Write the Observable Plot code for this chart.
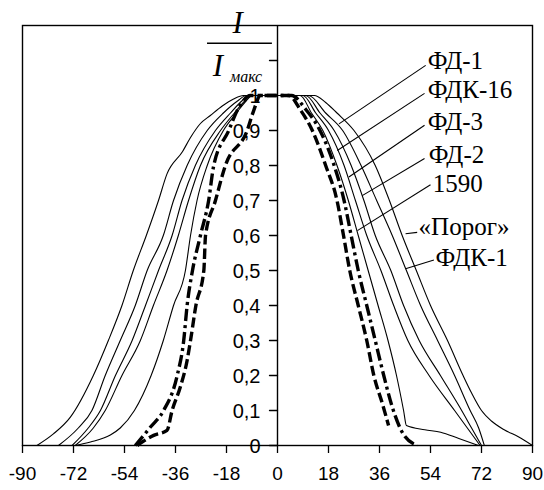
<!DOCTYPE html>
<html><head><meta charset="utf-8">
<script src="https://cdn.jsdelivr.net/npm/d3@7"></script>
<script src="https://cdn.jsdelivr.net/npm/@observablehq/plot@0.6"></script>
<style>body{margin:0;background:#fff}</style>
</head><body><div id="chart"></div>
<script>
// ---- tick values and labels ----
const xTicks = [-90, -72, -54, -36, -18, 0, 18, 36, 54, 72, 90];
const yTicks = [0, 0.1, 0.2, 0.3, 0.4, 0.5, 0.6, 0.7, 0.8, 0.9, 1, 1.1];
const yLabelValues = [0, 0.1, 0.2, 0.3, 0.4, 0.5, 0.6, 0.7, 0.8, 0.9, 1];
const yLabelTexts = ["0", "0,1", "0,2", "0,3", "0,4", "0,5", "0,6", "0,7", "0,8", "0,9", "1"];

// ---- series (angle in degrees, relative intensity I/Imax) ----
const seriesNames = ["ФД-1", "ФДК-16", "ФД-3", "ФД-2", "1590", "«Порог»", "ФДК-1"];

const angFD1 = [-49.5,-43.7,-39,-37.2,-34.3,-31.9,-30.7,-28.8,-26,-25.4,-21.9,-18.4,-10.7,-8.4,-6, 4,8,12.3,17,21,23.3,25.5,28.5,31.5,34,37,38.2,39.2];
const intFD1 = [0,0.029,0.043,0.1,0.167,0.243,0.3,0.4,0.5,0.6,0.7,0.8,0.9,0.957,1, 1,0.96,0.9,0.8,0.7,0.6,0.5,0.4,0.3,0.2,0.12,0.086,0.057];

const angFDK16 = [-50.2,-44.9,-40.2,-35.4,-33.1,-31.9,-30,-27.2,-24.3,-22.5,-17.2,-14.2,-9.5, 5,10,15,20,23.5,26,28.5,31.5,34.5,37.5,40.5,44.6,49.4];
const intFDK16 = [0,0.052,0.1,0.2,0.3,0.4,0.5,0.6,0.7,0.8,0.9,0.957,1, 1,0.96,0.9,0.8,0.7,0.6,0.5,0.4,0.3,0.2,0.11,0.03,0];

const angFD3 = [-71.4,-66,-59,-55.5,-50.5,-44.6,-40.3,-36.7,-32.5,-30.7,-28.4,-24.8,-19.1,-14.5,-11,-8.8, 8,12,16,21,25,28.5,32,35.5,39,42,44.5,45.5,52,57.6,64,71];
const intFD3 = [0,0.01,0.03,0.05,0.1,0.2,0.3,0.4,0.5,0.6,0.7,0.8,0.9,0.95,0.985,1, 1,0.95,0.9,0.8,0.7,0.6,0.5,0.4,0.3,0.2,0.1,0.057,0.045,0.038,0.02,0];

const angFD2 = [-71.4,-65,-60.8,-54.9,-48.4,-43.8,-39,-35,-31.4,-27.2,-20.1,-15.2,-11.5,-9.5, 9,13.5,18,23.5,27.5,31.5,36.5,41,46,53.5,62.5,67,71.5];
const intFD2 = [0,0.05,0.1,0.2,0.3,0.4,0.5,0.6,0.7,0.8,0.9,0.95,0.985,1, 1,0.95,0.9,0.8,0.7,0.6,0.5,0.4,0.3,0.2,0.1,0.05,0];

const ang1590 = [-72.5,-66.8,-62.5,-57.2,-51.3,-46.6,-42,-37.2,-33.7,-29,-21.9,-16.6,-12.5,-10, 10,15,20,26,30.5,34.5,40,44.5,50,57.5,65,68.5,72];
const int1590 = [0,0.05,0.1,0.2,0.3,0.4,0.5,0.6,0.7,0.8,0.9,0.95,0.985,1, 1,0.95,0.9,0.8,0.7,0.6,0.5,0.4,0.3,0.2,0.1,0.05,0];

const angPorog = [-84.9,-79.1,-73.1,-65,-59.7,-54.9,-50.9,-46.3,-42,-39,-33.5,-30.7,-27.2,-23.7,-19.5,-15.5,-12, 13,17,21,27,34.5,39.5,44,49,54,60,65.5,68.5,72,75.5,80,85,90];
const intPorog = [0,0.033,0.081,0.2,0.3,0.4,0.5,0.6,0.7,0.776,0.84,0.88,0.92,0.943,0.97,0.99,1, 1,0.98,0.95,0.9,0.8,0.7,0.6,0.5,0.4,0.3,0.2,0.15,0.1,0.07,0.045,0.025,0];

const angFDK1 = [-77.3,-70.3,-65.5,-60.8,-55.5,-50.2,-46,-40.3,-36.7,-31.9,-24.8,-19.1,-14,-11, 11,17,23,29.5,35,40.5,45.5,50.5,56.5,62.5,68,71,73];
const intFDK1 = [0,0.05,0.1,0.2,0.3,0.4,0.5,0.6,0.7,0.8,0.9,0.95,0.985,1, 1,0.95,0.9,0.8,0.7,0.6,0.5,0.4,0.3,0.2,0.1,0.05,0];

const seriesAngles = [angFD1, angFDK16, angFD3, angFD2, ang1590, angPorog, angFDK1];
const seriesValues = [intFD1, intFDK16, intFD3, intFD2, int1590, intPorog, intFDK1];

// ---- annotation layout (data coordinates) ----
const layout = {
  labelX:   [53, 53, 53, 53.4, 54.8, 49.8, 55.8],
  labelY:   [1.1, 1.017, 0.923, 0.831, 0.748, 0.623, 0.537],
  leadX1:   [52.3, 51.9, 51.9, 51.9, 54, 49.3, 55.2],
  leadY1:   [1.086, 1.006, 0.915, 0.82, 0.745, 0.609, 0.53],
  leadX2:   [21.7, 21.1, 25.2, 29.9, 28.2, 45.2, 45.2],
  leadY2:   [0.919, 0.843, 0.767, 0.714, 0.614, 0.605, 0.505],
  fracTop: {x: -14.1, y: 1.206},
  fracBar: {y: 1.149, x1: -24.7, x2: -1.8},
  fracBottom: {x: -21, y: 1.084},
  fracSub: {x: -11.1, y: 1.052}
};

const styles = {
  "ФД-1":   {strokeWidth: 3.4, strokeDasharray: "10,4", strokeLinecap: "butt"},
  "ФДК-16": {strokeWidth: 3.4, strokeDasharray: "12,4,3,4", strokeLinecap: "butt"}
};

const rows = [];
seriesNames.forEach((name, i) => {
  seriesAngles[i].forEach((a, j) => rows.push({name, angle: a, value: seriesValues[i][j]}));
});

const tickLeft = {draw(context, length) { context.moveTo(0, 0); context.lineTo(0, -length); }};

const leaders = seriesNames.map((name, i) => ({
  name, x1: layout.leadX1[i], y1: layout.leadY1[i], x2: layout.leadX2[i], y2: layout.leadY2[i],
  lx: layout.labelX[i], ly: layout.labelY[i]
}));

const lineMarks = seriesNames.map(name => {
  const st = styles[name] || {strokeWidth: 1.1};
  return Plot.line(rows.filter(d => d.name === name), {
    x: "angle", y: "value", stroke: "black", curve: "monotone-x", ...st
  });
});

const serif = "'Liberation Serif', 'Times New Roman', serif";

const chart = Plot.plot({
  width: 544, height: 490,
  marginLeft: 22, marginRight: 12, marginTop: 25, marginBottom: 45,
  style: {fontFamily: "'Liberation Sans', Arial, sans-serif", background: "white", color: "black"},
  x: {domain: [-90, 90], label: null},
  y: {domain: [0, 1.2], axis: null, label: null},
  marks: [
    Plot.frame({stroke: "black", strokeWidth: 1.4}),
    Plot.ruleX([0], {stroke: "black", strokeWidth: 1.4}),
    Plot.vector(yTicks, {x: 0, y: d => d, length: 8, rotate: -90, anchor: "start", shape: tickLeft, stroke: "black", strokeWidth: 1.3}),
    Plot.text(yLabelValues, {x: 0, y: d => d, text: (d, i) => yLabelTexts[i], textAnchor: "end", dx: -17, dy: 1, fontSize: 20}),
    Plot.axisX(xTicks, {tickSize: 8, tickPadding: 13, fontSize: 19, tickFormat: d => String(d), strokeWidth: 1.3, label: null}),
    ...lineMarks,
    Plot.link(leaders, {x1: "x1", y1: "y1", x2: "x2", y2: "y2", stroke: "black", strokeWidth: 1.1}),
    Plot.text(leaders, {x: "lx", y: "ly", text: "name", textAnchor: "start", fontFamily: serif, fontSize: 25}),
    Plot.ruleY([layout.fracBar.y], {x1: layout.fracBar.x1, x2: layout.fracBar.x2, stroke: "black", strokeWidth: 1.5}),
    Plot.text(["I"], {x: layout.fracTop.x, y: layout.fracTop.y, fontFamily: serif, fontStyle: "italic", fontSize: 31}),
    Plot.text(["I"], {x: layout.fracBottom.x, y: layout.fracBottom.y, fontFamily: serif, fontStyle: "italic", fontSize: 31}),
    Plot.text(["макс"], {x: layout.fracSub.x, y: layout.fracSub.y, fontFamily: serif, fontStyle: "italic", fontSize: 16})
  ]
});
document.getElementById("chart").appendChild(chart);
</script>
</body></html>
